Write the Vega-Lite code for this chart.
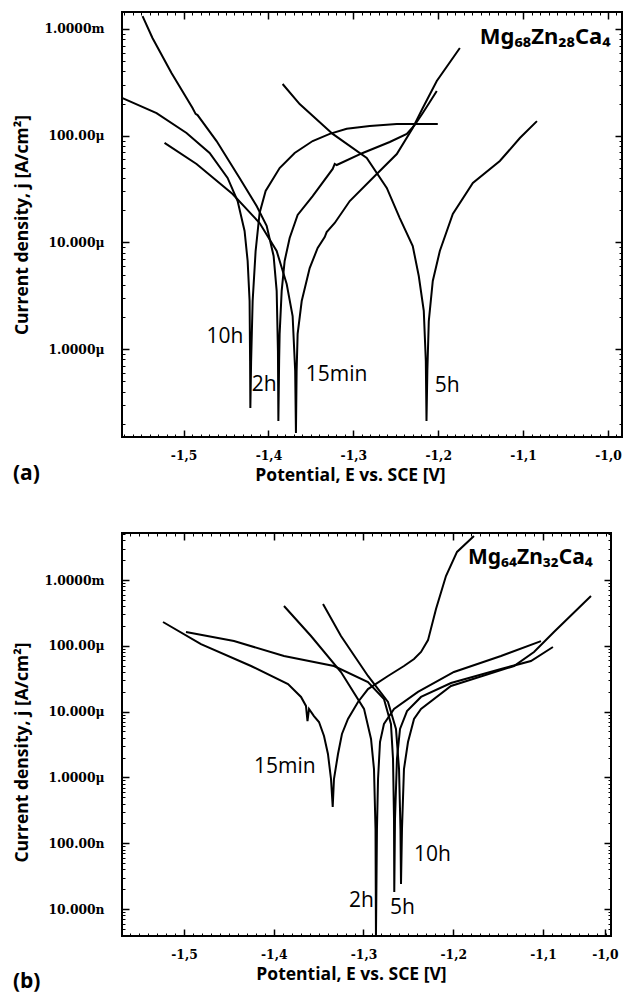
{
  "$schema": "https://vega.github.io/schema/vega-lite/v6.json",
  "background": "white",
  "padding": {"left": 11, "top": 10, "right": 0, "bottom": 0},
  "spacing": 46,
  "config": {
    "view": {"stroke": "black", "strokeWidth": 2},
    "axis": {
      "labelFont": "DejaVu Serif",
      "labelFontWeight": "bold",
      "labelFontSize": 12.3,
      "labelColor": "black",
      "titleFont": "Open Sans",
      "titleFontWeight": "bold",
      "titleFontSize": 17.5,
      "titleColor": "black",
      "domain": false,
      "grid": false,
      "tickColor": "black",
      "tickWidth": 1.5,
      "tickSize": 7,
      "offset": -7
    },
    "title": {"font": "Open Sans", "fontSize": 21, "fontWeight": "bold", "color": "black"}
  },
  "datasets": {
    "curvesA": [
      {"t": "10h", "E": -1.5719, "j": 2.25e-4}, {"t": "10h", "E": -1.5318, "j": 1.63e-4}, {"t": "10h", "E": -1.4965, "j": 1.06e-4},
      {"t": "10h", "E": -1.4693, "j": 6.89e-5}, {"t": "10h", "E": -1.4481, "j": 4.02e-5}, {"t": "10h", "E": -1.4363, "j": 2.44e-5},
      {"t": "10h", "E": -1.4281, "j": 1.28e-5}, {"t": "10h", "E": -1.4245, "j": 6.70e-6}, {"t": "10h", "E": -1.4222, "j": 2.82e-6},
      {"t": "10h", "E": -1.4216, "j": 7.73e-7}, {"t": "10h", "E": -1.4213, "j": 2.81e-7}, {"t": "10h", "E": -1.4204, "j": 7.7e-7},
      {"t": "10h", "E": -1.4186, "j": 2.82e-6}, {"t": "10h", "E": -1.4151, "j": 8.30e-6}, {"t": "10h", "E": -1.4104, "j": 1.89e-5},
      {"t": "10h", "E": -1.4033, "j": 3.03e-5}, {"t": "10h", "E": -1.3868, "j": 4.98e-5}, {"t": "10h", "E": -1.3691, "j": 6.89e-5},
      {"t": "10h", "E": -1.3479, "j": 8.91e-5}, {"t": "10h", "E": -1.3278, "j": 1.04e-4}, {"t": "10h", "E": -1.3078, "j": 1.16e-4},
      {"t": "10h", "E": -1.2807, "j": 1.23e-4}, {"t": "10h", "E": -1.2488, "j": 1.29e-4}, {"t": "10h", "E": -1.2005, "j": 1.29e-4},

      {"t": "2h", "E": -1.5483, "j": 1.32e-3}, {"t": "2h", "E": -1.5366, "j": 8.24e-4}, {"t": "2h", "E": -1.5142, "j": 3.87e-4},
      {"t": "2h", "E": -1.4894, "j": 1.82e-4}, {"t": "2h", "E": -1.4858, "j": 1.60e-4}, {"t": "2h", "E": -1.4835, "j": 1.56e-4},
      {"t": "2h", "E": -1.4611, "j": 8.91e-5}, {"t": "2h", "E": -1.4340, "j": 4.02e-5}, {"t": "2h", "E": -1.4139, "j": 2.19e-5},
      {"t": "2h", "E": -1.4021, "j": 1.43e-5}, {"t": "2h", "E": -1.3939, "j": 7.46e-6}, {"t": "2h", "E": -1.3903, "j": 3.51e-6},
      {"t": "2h", "E": -1.3888, "j": 9.59e-7}, {"t": "2h", "E": -1.3883, "j": 2.12e-7}, {"t": "2h", "E": -1.3874, "j": 7.73e-7},
      {"t": "2h", "E": -1.3868, "j": 1.39e-6}, {"t": "2h", "E": -1.3844, "j": 3.51e-6}, {"t": "2h", "E": -1.3809, "j": 6.70e-6},
      {"t": "2h", "E": -1.3750, "j": 1.10e-5}, {"t": "2h", "E": -1.3656, "j": 1.81e-5}, {"t": "2h", "E": -1.3479, "j": 2.72e-5},
      {"t": "2h", "E": -1.3243, "j": 4.88e-5}, {"t": "2h", "E": -1.3219, "j": 5.43e-5}, {"t": "2h", "E": -1.3196, "j": 5.31e-5},
      {"t": "2h", "E": -1.2889, "j": 6.89e-5}, {"t": "2h", "E": -1.2571, "j": 8.73e-5}, {"t": "2h", "E": -1.2370, "j": 1.04e-4},
      {"t": "2h", "E": -1.2276, "j": 1.26e-4}, {"t": "2h", "E": -1.2182, "j": 1.63e-4}, {"t": "2h", "E": -1.2099, "j": 2.07e-4},
      {"t": "2h", "E": -1.2017, "j": 2.62e-4},

      {"t": "15min", "E": -1.5224, "j": 8.55e-5}, {"t": "15min", "E": -1.4847, "j": 5.43e-5}, {"t": "15min", "E": -1.4422, "j": 2.84e-5},
      {"t": "15min", "E": -1.4104, "j": 1.52e-5}, {"t": "15min", "E": -1.3903, "j": 8.30e-6}, {"t": "15min", "E": -1.3785, "j": 4.07e-6},
      {"t": "15min", "E": -1.3715, "j": 2.04e-6}, {"t": "15min", "E": -1.3685, "j": 6.24e-7}, {"t": "15min", "E": -1.3676, "j": 1.64e-7},
      {"t": "15min", "E": -1.3668, "j": 6.24e-7}, {"t": "15min", "E": -1.3656, "j": 1.39e-6}, {"t": "15min", "E": -1.3608, "j": 2.82e-6},
      {"t": "15min", "E": -1.3514, "j": 5.75e-6}, {"t": "15min", "E": -1.3420, "j": 8.87e-6}, {"t": "15min", "E": -1.3337, "j": 1.12e-5},
      {"t": "15min", "E": -1.3314, "j": 1.25e-5}, {"t": "15min", "E": -1.3219, "j": 1.52e-5}, {"t": "15min", "E": -1.3042, "j": 2.44e-5},
      {"t": "15min", "E": -1.2724, "j": 4.38e-5}, {"t": "15min", "E": -1.2488, "j": 6.73e-5}, {"t": "15min", "E": -1.2300, "j": 1.18e-4},
      {"t": "15min", "E": -1.2182, "j": 1.82e-4}, {"t": "15min", "E": -1.2017, "j": 3.26e-4}, {"t": "15min", "E": -1.1745, "j": 6.64e-4},

      {"t": "5h", "E": -1.3833, "j": 3.05e-4}, {"t": "5h", "E": -1.3632, "j": 1.98e-4}, {"t": "5h", "E": -1.3243, "j": 1.04e-4},
      {"t": "5h", "E": -1.2842, "j": 6.18e-5}, {"t": "5h", "E": -1.2606, "j": 3.24e-5}, {"t": "5h", "E": -1.2453, "j": 1.69e-5},
      {"t": "5h", "E": -1.2300, "j": 9.25e-6}, {"t": "5h", "E": -1.2229, "j": 4.84e-6}, {"t": "5h", "E": -1.2170, "j": 2.28e-6},
      {"t": "5h", "E": -1.2146, "j": 7.73e-7}, {"t": "5h", "E": -1.2138, "j": 2.12e-7}, {"t": "5h", "E": -1.2128, "j": 6.24e-7},
      {"t": "5h", "E": -1.2111, "j": 1.83e-6}, {"t": "5h", "E": -1.2064, "j": 4.35e-6}, {"t": "5h", "E": -1.1981, "j": 8.30e-6},
      {"t": "5h", "E": -1.1828, "j": 1.85e-5}, {"t": "5h", "E": -1.1592, "j": 3.61e-5}, {"t": "5h", "E": -1.1274, "j": 5.79e-5},
      {"t": "5h", "E": -1.1038, "j": 9.51e-5}, {"t": "5h", "E": -1.0837, "j": 1.37e-4}
    ],
    "curvesB": [
      {"t": "15min", "E": -1.5234, "j": 2.30e-4}, {"t": "15min", "E": -1.4811, "j": 1.06e-4}, {"t": "15min", "E": -1.4253, "j": 4.93e-5},
      {"t": "15min", "E": -1.3841, "j": 2.62e-5}, {"t": "15min", "E": -1.3696, "j": 1.67e-5}, {"t": "15min", "E": -1.3641, "j": 1.22e-5},
      {"t": "15min", "E": -1.3624, "j": 7.19e-6}, {"t": "15min", "E": -1.3607, "j": 1.10e-5}, {"t": "15min", "E": -1.3552, "j": 8.57e-6},
      {"t": "15min", "E": -1.3496, "j": 6.95e-6}, {"t": "15min", "E": -1.3440, "j": 4.26e-6}, {"t": "15min", "E": -1.3396, "j": 2.27e-6},
      {"t": "15min", "E": -1.3362, "j": 9.46e-7}, {"t": "15min", "E": -1.3343, "j": 3.55e-7}, {"t": "15min", "E": -1.3329, "j": 9.46e-7},
      {"t": "15min", "E": -1.3284, "j": 2.27e-6}, {"t": "15min", "E": -1.3240, "j": 4.57e-6}, {"t": "15min", "E": -1.3173, "j": 7.73e-6},
      {"t": "15min", "E": -1.3061, "j": 1.40e-5}, {"t": "15min", "E": -1.2950, "j": 2.20e-5}, {"t": "15min", "E": -1.2727, "j": 3.48e-5},
      {"t": "15min", "E": -1.2549, "j": 4.93e-5}, {"t": "15min", "E": -1.2437, "j": 6.30e-5}, {"t": "15min", "E": -1.2359, "j": 8.05e-5},
      {"t": "15min", "E": -1.2281, "j": 1.22e-4}, {"t": "15min", "E": -1.2192, "j": 3.62e-4}, {"t": "15min", "E": -1.2081, "j": 1.15e-3},
      {"t": "15min", "E": -1.1958, "j": 2.67e-3}, {"t": "15min", "E": -1.1769, "j": 4.67e-3},

      {"t": "2h", "E": -1.3886, "j": 4.03e-4}, {"t": "2h", "E": -1.3585, "j": 1.41e-4}, {"t": "2h", "E": -1.3251, "j": 4.00e-5},
      {"t": "2h", "E": -1.2994, "j": 1.10e-5}, {"t": "2h", "E": -1.2916, "j": 3.84e-6}, {"t": "2h", "E": -1.2883, "j": 1.34e-6},
      {"t": "2h", "E": -1.2866, "j": 1.64e-7}, {"t": "2h", "E": -1.2861, "j": 3.9e-9}, {"t": "2h", "E": -1.2850, "j": 1.64e-7},
      {"t": "2h", "E": -1.2838, "j": 9.46e-7}, {"t": "2h", "E": -1.2816, "j": 3.45e-6}, {"t": "2h", "E": -1.2772, "j": 6.49e-6},
      {"t": "2h", "E": -1.2660, "j": 1.10e-5}, {"t": "2h", "E": -1.2393, "j": 1.99e-5}, {"t": "2h", "E": -1.1992, "j": 4.00e-5},
      {"t": "2h", "E": -1.1468, "j": 7.00e-5}, {"t": "2h", "E": -1.1022, "j": 1.18e-4},

      {"t": "5h", "E": -1.4978, "j": 1.62e-4}, {"t": "5h", "E": -1.4443, "j": 1.18e-4}, {"t": "5h", "E": -1.3886, "j": 7.00e-5},
      {"t": "5h", "E": -1.3329, "j": 4.93e-5}, {"t": "5h", "E": -1.2950, "j": 2.82e-5}, {"t": "5h", "E": -1.2772, "j": 1.55e-5},
      {"t": "5h", "E": -1.2694, "j": 6.49e-6}, {"t": "5h", "E": -1.2671, "j": 1.91e-6}, {"t": "5h", "E": -1.2660, "j": 2.33e-7},
      {"t": "5h", "E": -1.2657, "j": 1.81e-8}, {"t": "5h", "E": -1.2649, "j": 2.33e-7}, {"t": "5h", "E": -1.2627, "j": 1.91e-6},
      {"t": "5h", "E": -1.2593, "j": 5.44e-6}, {"t": "5h", "E": -1.2515, "j": 1.02e-5}, {"t": "5h", "E": -1.2359, "j": 1.67e-5},
      {"t": "5h", "E": -1.2025, "j": 2.72e-5}, {"t": "5h", "E": -1.1468, "j": 4.44e-5}, {"t": "5h", "E": -1.1134, "j": 5.87e-5},
      {"t": "5h", "E": -1.0889, "j": 9.59e-5},

      {"t": "10h", "E": -1.3451, "j": 4.32e-4}, {"t": "10h", "E": -1.3251, "j": 1.41e-4}, {"t": "10h", "E": -1.2950, "j": 3.48e-5},
      {"t": "10h", "E": -1.2727, "j": 1.40e-5}, {"t": "10h", "E": -1.2638, "j": 5.44e-6}, {"t": "10h", "E": -1.2604, "j": 1.34e-6},
      {"t": "10h", "E": -1.2588, "j": 1.64e-7}, {"t": "10h", "E": -1.2582, "j": 2.40e-8}, {"t": "10h", "E": -1.2571, "j": 1.64e-7},
      {"t": "10h", "E": -1.2549, "j": 1.34e-6}, {"t": "10h", "E": -1.2504, "j": 3.45e-6}, {"t": "10h", "E": -1.2437, "j": 7.73e-6},
      {"t": "10h", "E": -1.2359, "j": 1.10e-5}, {"t": "10h", "E": -1.2025, "j": 2.45e-5}, {"t": "10h", "E": -1.1323, "j": 4.93e-5},
      {"t": "10h", "E": -1.1100, "j": 8.05e-5}, {"t": "10h", "E": -1.0878, "j": 1.62e-4}, {"t": "10h", "E": -1.0465, "j": 5.71e-4}
    ],
    "labelsA": [
      {"label": "10h", "E": -1.4729, "j": 1.14e-6},
      {"label": "2h", "E": -1.4198, "j": 4.05e-7},
      {"label": "15min", "E": -1.3561, "j": 5.02e-7},
      {"label": "5h", "E": -1.2040, "j": 3.96e-7}
    ],
    "labelsB": [
      {"label": "15min", "E": -1.4220, "j": 1.17e-6},
      {"label": "2h", "E": -1.3162, "j": 1.07e-8},
      {"label": "5h", "E": -1.2705, "j": 8.4e-9},
      {"label": "10h", "E": -1.2437, "j": 5.36e-8}
    ],
    "alloyA": [{"label": "Mg₆₈Zn₂₈Ca₄", "E": -1.151, "j": 7.23e-4}],
    "alloyB": [{"label": "Mg₆₄Zn₃₂Ca₄", "E": -1.1836, "j": 1.75e-3}],
    "frameOnly": []
  },
  "vconcat": [
    {
      "width": 500,
      "height": 425,
      "title": {"text": "(a)", "orient": "bottom", "anchor": "start", "frame": "bounds", "dy": -25, "dx": -1},
      "resolve": {"axis": {"x": "independent", "y": "independent"}},
      "layer": [
        {
          "data": {"name": "curvesA"},
          "mark": {"type": "line", "color": "black", "strokeWidth": 2, "clip": true},
          "encoding": {
            "x": {
              "field": "E", "type": "quantitative",
              "scale": {"domain": [-1.5725, -0.9835], "nice": false, "zero": false},
              "axis": {
                "orient": "bottom",
                "values": [-1.5, -1.4, -1.3, -1.2, -1.1, -1.0],
                "labelExpr": "'-' + replace(format(-datum.value, '.1f'), '.', ',')",
                "labelPadding": 12,
                "title": "Potential, E vs. SCE [V]",
                "titlePadding": 5,
                "titleX": 228
              }
            },
            "y": {
              "field": "j", "type": "quantitative",
              "scale": {"type": "log", "domain": [1.5e-7, 1.443e-3], "nice": false},
              "axis": {
                "orient": "left",
                "values": [1e-3, 1e-4, 1e-5, 1e-6],
                "labelExpr": "datum.value > 5e-4 ? '1.0000m' : datum.value > 5e-5 ? '100.00μ' : datum.value > 5e-6 ? '10.000μ' : datum.value > 5e-7 ? '1.0000μ' : datum.value > 5e-8 ? '100.00n' : '10.000n'",
                "labelPadding": 18,
                "title": "Current density, j [A/cm²]",
                "titlePadding": 12
              }
            },
            "detail": {"field": "t"}
          }
        },
        {
          "data": {"name": "labelsA"},
          "mark": {"type": "text", "align": "left", "baseline": "alphabetic", "font": "Open Sans", "fontSize": 21, "color": "black"},
          "encoding": {
            "x": {"field": "E", "type": "quantitative", "axis": {"orient": "bottom", "labels": false, "title": null, "tickSize": 3, "offset": -3, "tickWidth": 1,
              "values": [-1.57, -1.56, -1.55, -1.54, -1.53, -1.52, -1.51, -1.49, -1.48, -1.47, -1.46, -1.45, -1.44, -1.43, -1.42, -1.41, -1.39, -1.38, -1.37, -1.36, -1.35, -1.34, -1.33, -1.32, -1.31, -1.29, -1.28, -1.27, -1.26, -1.25, -1.24, -1.23, -1.22, -1.21, -1.19, -1.18, -1.17, -1.16, -1.15, -1.14, -1.13, -1.12, -1.11, -1.09, -1.08, -1.07, -1.06, -1.05, -1.04, -1.03, -1.02, -1.01, -0.99]}},
            "y": {"field": "j", "type": "quantitative", "axis": {"orient": "left", "labels": false, "title": null, "tickSize": 3, "offset": -3, "tickWidth": 1,
              "values": [2e-7, 3e-7, 4e-7, 5e-7, 6e-7, 7e-7, 8e-7, 9e-7, 2e-6, 3e-6, 4e-6, 5e-6, 6e-6, 7e-6, 8e-6, 9e-6, 2e-5, 3e-5, 4e-5, 5e-5, 6e-5, 7e-5, 8e-5, 9e-5, 2e-4, 3e-4, 4e-4, 5e-4, 6e-4, 7e-4, 8e-4, 9e-4]}},
            "text": {"field": "label"}
          }
        },
        {
          "data": {"name": "alloyA"},
          "mark": {"type": "text", "align": "left", "baseline": "alphabetic", "font": "Noto Sans", "fontSize": 22, "fontWeight": "bold", "color": "black"},
          "encoding": {
            "x": {"field": "E", "type": "quantitative", "axis": {"orient": "top", "values": [-1.5, -1.4, -1.3, -1.2, -1.1, -1.0], "labels": false, "title": null}},
            "y": {"field": "j", "type": "quantitative", "axis": {"orient": "right", "values": [1e-3, 1e-4, 1e-5, 1e-6], "labels": false, "title": null}},
            "text": {"field": "label"}
          }
        },
        {
          "data": {"name": "frameOnly"},
          "mark": {"type": "point", "opacity": 0},
          "encoding": {
            "x": {"field": "E", "type": "quantitative", "axis": {"orient": "top", "labels": false, "title": null, "tickSize": 3, "offset": -3, "tickWidth": 1,
              "values": [-1.57, -1.56, -1.55, -1.54, -1.53, -1.52, -1.51, -1.49, -1.48, -1.47, -1.46, -1.45, -1.44, -1.43, -1.42, -1.41, -1.39, -1.38, -1.37, -1.36, -1.35, -1.34, -1.33, -1.32, -1.31, -1.29, -1.28, -1.27, -1.26, -1.25, -1.24, -1.23, -1.22, -1.21, -1.19, -1.18, -1.17, -1.16, -1.15, -1.14, -1.13, -1.12, -1.11, -1.09, -1.08, -1.07, -1.06, -1.05, -1.04, -1.03, -1.02, -1.01, -0.99]}},
            "y": {"field": "j", "type": "quantitative", "axis": {"orient": "right", "labels": false, "title": null, "tickSize": 3, "offset": -3, "tickWidth": 1,
              "values": [2e-7, 3e-7, 4e-7, 5e-7, 6e-7, 7e-7, 8e-7, 9e-7, 2e-6, 3e-6, 4e-6, 5e-6, 6e-6, 7e-6, 8e-6, 9e-6, 2e-5, 3e-5, 4e-5, 5e-5, 6e-5, 7e-5, 8e-5, 9e-5, 2e-4, 3e-4, 4e-4, 5e-4, 6e-4, 7e-4, 8e-4, 9e-4]}}
          }
        }
      ]
    },
    {
      "width": 489,
      "height": 403,
      "title": {"text": "(b)", "orient": "bottom", "anchor": "start", "frame": "bounds", "dy": -16, "dx": -1},
      "resolve": {"axis": {"x": "independent", "y": "independent"}},
      "layer": [
        {
          "data": {"name": "curvesB"},
          "mark": {"type": "line", "color": "black", "strokeWidth": 2, "clip": true},
          "encoding": {
            "x": {
              "field": "E", "type": "quantitative",
              "scale": {"domain": [-1.5691, -1.0242], "nice": false, "zero": false},
              "axis": {
                "orient": "bottom",
                "values": [-1.5, -1.4, -1.3, -1.2, -1.1, -1.031],
                "labelExpr": "'-' + replace(format(-datum.value, '.1f'), '.', ',')",
                "labelPadding": 12,
                "title": "Potential, E vs. SCE [V]",
                "titlePadding": 5,
                "titleX": 229
              }
            },
            "y": {
              "field": "j", "type": "quantitative",
              "scale": {"type": "log", "domain": [3.89e-9, 5.18e-3], "nice": false},
              "axis": {
                "orient": "left",
                "values": [1e-3, 1e-4, 1e-5, 1e-6, 1e-7, 1e-8],
                "labelExpr": "datum.value > 5e-4 ? '1.0000m' : datum.value > 5e-5 ? '100.00μ' : datum.value > 5e-6 ? '10.000μ' : datum.value > 5e-7 ? '1.0000μ' : datum.value > 5e-8 ? '100.00n' : '10.000n'",
                "labelPadding": 18,
                "title": "Current density, j [A/cm²]",
                "titlePadding": 12,
                "titleY": 219
              }
            },
            "detail": {"field": "t"}
          }
        },
        {
          "data": {"name": "labelsB"},
          "mark": {"type": "text", "align": "left", "baseline": "alphabetic", "font": "Open Sans", "fontSize": 21, "color": "black"},
          "encoding": {
            "x": {"field": "E", "type": "quantitative", "axis": {"orient": "bottom", "labels": false, "title": null, "tickSize": 3, "offset": -3, "tickWidth": 1,
              "values": [-1.56, -1.55, -1.54, -1.53, -1.52, -1.51, -1.49, -1.48, -1.47, -1.46, -1.45, -1.44, -1.43, -1.42, -1.41, -1.39, -1.38, -1.37, -1.36, -1.35, -1.34, -1.33, -1.32, -1.31, -1.29, -1.28, -1.27, -1.26, -1.25, -1.24, -1.23, -1.22, -1.21, -1.19, -1.18, -1.17, -1.16, -1.15, -1.14, -1.13, -1.12, -1.11, -1.09, -1.08, -1.07, -1.06, -1.05, -1.04, -1.03]}},
            "y": {"field": "j", "type": "quantitative", "axis": {"orient": "left", "labels": false, "title": null, "tickSize": 3, "offset": -3, "tickWidth": 1,
              "values": [4e-9, 5e-9, 6e-9, 7e-9, 8e-9, 9e-9, 2e-8, 3e-8, 4e-8, 5e-8, 6e-8, 7e-8, 8e-8, 9e-8, 2e-7, 3e-7, 4e-7, 5e-7, 6e-7, 7e-7, 8e-7, 9e-7, 2e-6, 3e-6, 4e-6, 5e-6, 6e-6, 7e-6, 8e-6, 9e-6, 2e-5, 3e-5, 4e-5, 5e-5, 6e-5, 7e-5, 8e-5, 9e-5, 2e-4, 3e-4, 4e-4, 5e-4, 6e-4, 7e-4, 8e-4, 9e-4, 2e-3, 3e-3, 4e-3, 5e-3]}},
            "text": {"field": "label"}
          }
        },
        {
          "data": {"name": "alloyB"},
          "mark": {"type": "text", "align": "left", "baseline": "alphabetic", "font": "Noto Sans", "fontSize": 21, "fontWeight": "bold", "color": "black"},
          "encoding": {
            "x": {"field": "E", "type": "quantitative", "axis": {"orient": "top", "values": [-1.5, -1.4, -1.3, -1.2, -1.1], "labels": false, "title": null}},
            "y": {"field": "j", "type": "quantitative", "axis": {"orient": "right", "values": [1e-3, 1e-4, 1e-5, 1e-6, 1e-7, 1e-8], "labels": false, "title": null}},
            "text": {"field": "label"}
          }
        },
        {
          "data": {"name": "frameOnly"},
          "mark": {"type": "point", "opacity": 0},
          "encoding": {
            "x": {"field": "E", "type": "quantitative", "axis": {"orient": "top", "labels": false, "title": null, "tickSize": 3, "offset": -3, "tickWidth": 1,
              "values": [-1.56, -1.55, -1.54, -1.53, -1.52, -1.51, -1.49, -1.48, -1.47, -1.46, -1.45, -1.44, -1.43, -1.42, -1.41, -1.39, -1.38, -1.37, -1.36, -1.35, -1.34, -1.33, -1.32, -1.31, -1.29, -1.28, -1.27, -1.26, -1.25, -1.24, -1.23, -1.22, -1.21, -1.19, -1.18, -1.17, -1.16, -1.15, -1.14, -1.13, -1.12, -1.11, -1.09, -1.08, -1.07, -1.06, -1.05, -1.04, -1.03]}},
            "y": {"field": "j", "type": "quantitative", "axis": {"orient": "right", "labels": false, "title": null, "tickSize": 3, "offset": -3, "tickWidth": 1,
              "values": [4e-9, 5e-9, 6e-9, 7e-9, 8e-9, 9e-9, 2e-8, 3e-8, 4e-8, 5e-8, 6e-8, 7e-8, 8e-8, 9e-8, 2e-7, 3e-7, 4e-7, 5e-7, 6e-7, 7e-7, 8e-7, 9e-7, 2e-6, 3e-6, 4e-6, 5e-6, 6e-6, 7e-6, 8e-6, 9e-6, 2e-5, 3e-5, 4e-5, 5e-5, 6e-5, 7e-5, 8e-5, 9e-5, 2e-4, 3e-4, 4e-4, 5e-4, 6e-4, 7e-4, 8e-4, 9e-4, 2e-3, 3e-3, 4e-3, 5e-3]}}
          }
        }
      ]
    }
  ]
}
